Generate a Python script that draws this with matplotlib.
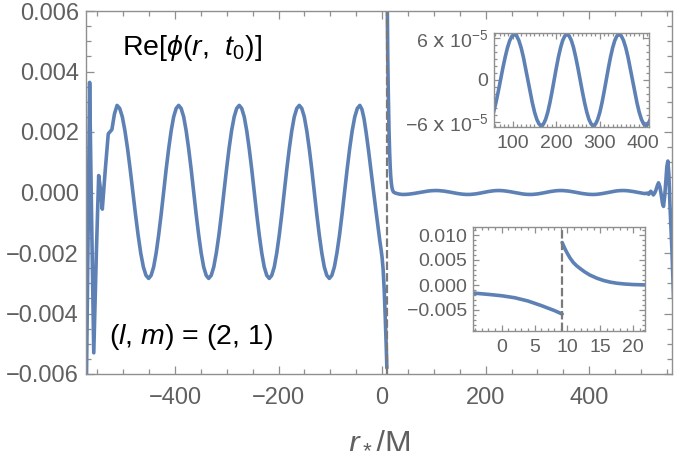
import numpy as np
import matplotlib
matplotlib.use('Agg')
import matplotlib.pyplot as plt
from matplotlib.ticker import MultipleLocator, FuncFormatter, FixedLocator, FixedFormatter

plt.rcParams['font.family'] = ['Liberation Sans', 'DejaVu Sans']
plt.rcParams['mathtext.fontset'] = 'custom'
plt.rcParams['mathtext.rm'] = 'Liberation Sans'
plt.rcParams['mathtext.it'] = 'Liberation Sans:italic'
plt.rcParams['mathtext.bf'] = 'Liberation Sans:bold'

# ---------------- data (phi in units of 1e-3) ----------------
r0 = 9.2  # particle location (dashed line)

# inner side (r* < r0)
rs_in = [-572, -568, -565, -561.5, -557, -552, -547.5, -544, -540.5, -535, -529, -522, -517, -512,
         -506.9, -501.8, -496.8, -491.7, -486.6, -481.5, -476.4, -471.3, -466.3, -461.2, -456.1, -451,
         -446.2, -441.3, -436.5, -431.7, -426.8, -422, -417.2, -412.3, -407.5, -402.7, -397.8, -393,
         -388.2, -383.3, -378.5, -373.7, -368.8, -364, -359.2, -354.3, -349.5, -344.7, -339.8, -335,
         -330.1, -325.2, -320.3, -315.3, -310.4, -305.5, -300.6, -295.7, -290.8, -285.8, -280.9, -276,
         -271.2, -266.3, -261.5, -256.7, -251.8, -247, -242.2, -237.3, -232.5, -227.7, -222.8, -218,
         -213.2, -208.3, -203.5, -198.7, -193.8, -189, -184.2, -179.3, -174.5, -169.7, -164.8, -160,
         -155.2, -150.3, -145.5, -140.7, -135.8, -131, -126.2, -121.3, -116.5, -111.7, -106.8, -102,
         -97.1, -92.2, -87.3, -82.3, -77.4, -72.5, -67.6, -62.7, -57.8, -52.8, -47.9, -43,
         -39, -35, -31, -26.5, -22, -17, -13, -10, -7, -4.4, -2, 0, 2, 4, 6, 8, 9.2]
phi_in = [-7.5, -1.5, 3.64, -0.5, -5.3, -2.0, 0.56, 0.1, -0.55, 0.7, 1.94, 2.08, 2.6, 2.88,
          2.78, 2.50, 2.04, 1.45, 0.76, 0.02, -0.72, -1.41, -2.00, -2.46, -2.74, -2.84,
          -2.74, -2.46, -2.00, -1.41, -0.72, 0.02, 0.76, 1.45, 2.04, 2.50, 2.78, 2.88,
          2.78, 2.50, 2.04, 1.45, 0.76, 0.02, -0.72, -1.41, -2.00, -2.46, -2.74, -2.84,
          -2.74, -2.46, -2.00, -1.41, -0.72, 0.02, 0.76, 1.45, 2.04, 2.50, 2.78, 2.88,
          2.78, 2.50, 2.04, 1.45, 0.76, 0.02, -0.72, -1.41, -2.00, -2.46, -2.74, -2.84,
          -2.74, -2.46, -2.00, -1.41, -0.72, 0.02, 0.76, 1.45, 2.04, 2.50, 2.78, 2.88,
          2.78, 2.50, 2.04, 1.45, 0.76, 0.02, -0.72, -1.41, -2.00, -2.46, -2.74, -2.84,
          -2.74, -2.46, -2.00, -1.41, -0.72, 0.02, 0.76, 1.45, 2.04, 2.50, 2.78, 2.88,
          2.75, 2.45, 2.0, 1.43, 0.8, 0.1, -0.45, -0.85, -1.25, -1.6, -1.88, -2.15, -2.55, -3.2, -4.1, -5.1, -5.8]

# outer side (r* > r0)
rs_out = [9.2, 9.6, 10.0, 10.4, 10.9, 11.4, 11.9, 12.6, 13.4, 14.5, 15.5, 16.5, 17.5, 18.7, 20, 21.8,
          24, 27, 30, 35, 40,
          45.3, 50.7, 56, 61.3, 66.7, 72, 77.3, 82.7, 88, 93.3, 98.7, 104,
          109.2, 114.3, 119.5, 124.7, 129.8, 135, 140.2, 145.3, 150.5, 155.7, 160.8, 166,
          170.9, 175.8, 180.8, 185.7, 190.6, 195.5, 200.4, 205.3, 210.3, 215.2, 220.1, 225,
          230.1, 235.2, 240.3, 245.3, 250.4, 255.5, 260.6, 265.7, 270.8, 275.8, 280.9, 286,
          290.9, 295.8, 300.8, 305.7, 310.6, 315.5, 320.4, 325.3, 330.3, 335.2, 340.1, 345,
          350.2, 355.3, 360.5, 365.7, 370.8, 376, 381.2, 386.3, 391.5, 396.7, 401.8, 407,
          411.8, 416.7, 421.5, 426.3, 431.2, 436, 440.8, 445.7, 450.5, 455.3, 460.2, 465,
          470, 475, 480, 485, 490, 495, 500, 505,
          509, 512, 515, 517, 519, 521.5, 524, 526.5, 529, 531.5, 534, 536.5, 539, 541.5, 543.6,
          546, 548, 550, 552, 554, 556, 558, 560, 563]
phi_out = [8.5, 7.3, 6.3, 5.4, 4.5, 3.85, 3.33, 2.65, 2.0, 1.35, 0.9, 0.58, 0.36, 0.2, 0.09, 0.02,
           -0.005, -0.025, -0.04, -0.058, -0.065,
           -0.0628, -0.0563, -0.046, -0.0325, -0.0168, 0.0, 0.0168, 0.0325, 0.046, 0.0563, 0.0628, 0.065,
           0.0628, 0.0563, 0.046, 0.0325, 0.0168, 0.0, -0.0168, -0.0325, -0.046, -0.0563, -0.0628, -0.065,
           -0.0628, -0.0563, -0.046, -0.0325, -0.0168, 0.0, 0.0168, 0.0325, 0.046, 0.0563, 0.0628, 0.065,
           0.0628, 0.0563, 0.046, 0.0325, 0.0168, 0.0, -0.0168, -0.0325, -0.046, -0.0563, -0.0628, -0.065,
           -0.0628, -0.0563, -0.046, -0.0325, -0.0168, 0.0, 0.0168, 0.0325, 0.046, 0.0563, 0.0628, 0.065,
           0.0628, 0.0563, 0.046, 0.0325, 0.0168, 0.0, -0.0168, -0.0325, -0.046, -0.0563, -0.0628, -0.065,
           -0.0628, -0.0563, -0.046, -0.0325, -0.0168, 0.0, 0.0168, 0.0325, 0.046, 0.0563, 0.0628, 0.065,
           0.0628, 0.0563, 0.046, 0.0325, 0.0168, 0.0, -0.0168, -0.03,
           -0.035, -0.02, -0.06, 0.0, 0.04, -0.02, -0.08, -0.02, 0.08, 0.22, 0.32, 0.2, -0.05, -0.35, -0.46,
           -0.1, 0.35, 0.85, 1.04, 0.6, -0.4, -1.2, -1.96, -3.5]

x_ticks_main = [-400, -200, 0, 200, 400]
y_ticks_main = [-0.006, -0.004, -0.002, 0.0, 0.002, 0.004, 0.006]
x_ticks_top = [100, 200, 300, 400]
y_ticks_top = [-6e-5, 0.0, 6e-5]
y_labels_top = [r'$-6\ \mathsf{x}\ 10^{-5}$', '0', r'$6\ \mathsf{x}\ 10^{-5}$']
x_ticks_low = [0, 5, 10, 15, 20]
y_ticks_low = [-0.005, 0.0, 0.005, 0.010]

# ---------------- style ----------------
LINE = '#5E81B5'
FRAME = '#8f8f8f'
TLAB = '#606060'
DASH = '#7a7a7a'
LW = 2.6

rin = np.array(rs_in)
pin = np.array(phi_in) * 1e-3
rout = np.array(rs_out)
pout = np.array(phi_out) * 1e-3


def fmt3(v, p):
    s = f'{v:.3f}'
    if s == '-0.000':
        s = '0.000'
    return s.replace('-', '\u2212')


def style_axes(ax, fs, major_len, minor_len):
    for sp in ax.spines.values():
        sp.set_color(FRAME)
        sp.set_linewidth(1.0)
    ax.tick_params(which='both', direction='in', top=True, right=True,
                   color=FRAME, width=0.9, labelcolor=TLAB, labelsize=fs)
    ax.tick_params(which='major', length=major_len)
    ax.tick_params(which='minor', length=minor_len)


def curve(a, r, p):
    a.plot(r, p, color=LINE, lw=LW, solid_capstyle='round', solid_joinstyle='round')


fig = plt.figure(figsize=(6.75, 4.59), dpi=100)

# main axes
ax = fig.add_axes([86/675, 1-374/459, (672-86)/675, (374-11)/459])
curve(ax, rin, pin)
curve(ax, rout, pout)
ax.axvline(r0, color=DASH, lw=1.6, linestyle=(0, (3.8, 1.4)))
ax.set_xlim(-572, 560)
ax.set_ylim(-0.006, 0.006)
ax.xaxis.set_major_locator(FixedLocator(x_ticks_main))
ax.xaxis.set_minor_locator(MultipleLocator(50))
ax.yaxis.set_major_locator(FixedLocator(y_ticks_main))
ax.yaxis.set_minor_locator(MultipleLocator(0.0005))
ax.xaxis.set_major_formatter(FuncFormatter(lambda v, p: f'{v:.0f}'.replace('-', '\u2212')))
ax.yaxis.set_major_formatter(FuncFormatter(fmt3))
style_axes(ax, 17, 6, 3.5)
ax.tick_params(axis='x', pad=9)
ax.tick_params(axis='y', pad=5)
ax.set_xlabel(r'$r_*$/M', fontsize=23, color=TLAB, labelpad=12)

ax.text(0.062, 0.897, r'Re[$\phi$($r$,  $t_0$)]', transform=ax.transAxes,
        fontsize=20.5, color='black', va='center', ha='left')
ax.text(0.040, 0.102, r'($l$, $m$) = (2, 1)', transform=ax.transAxes,
        fontsize=20.5, color='black', va='center', ha='left')

# top inset
ax1 = fig.add_axes([494/675, 1-127/459, 155/675, 94/459])
curve(ax1, rout, pout)
ax1.set_xlim(57, 414)
ax1.set_ylim(-6.7e-5, 6.7e-5)
ax1.xaxis.set_major_locator(FixedLocator(x_ticks_top))
ax1.xaxis.set_minor_locator(MultipleLocator(10))
ax1.yaxis.set_major_locator(FixedLocator(y_ticks_top))
ax1.yaxis.set_major_formatter(FixedFormatter(y_labels_top))
ax1.yaxis.set_minor_locator(MultipleLocator(1e-5))
style_axes(ax1, 14, 4, 2)
ax1.tick_params(axis='x', pad=6)
ax1.tick_params(axis='y', pad=4)

# lower inset
ax2 = fig.add_axes([472.7/675, 1-331/459, 172.3/675, 104/459])
curve(ax2, rin, pin)
curve(ax2, rout, pout)
ax2.axvline(r0, color=DASH, lw=1.6, linestyle=(0, (3.8, 1.4)))
ax2.set_xlim(-4.4, 21.8)
ax2.set_ylim(-0.0092, 0.0116)
ax2.xaxis.set_major_locator(FixedLocator(x_ticks_low))
ax2.xaxis.set_minor_locator(MultipleLocator(1))
ax2.yaxis.set_major_locator(FixedLocator(y_ticks_low))
ax2.yaxis.set_minor_locator(MultipleLocator(0.001))
ax2.yaxis.set_major_formatter(FuncFormatter(fmt3))
style_axes(ax2, 14, 4, 2)
ax2.tick_params(axis='x', pad=6)
ax2.tick_params(axis='y', pad=4)

fig.savefig('out.png', dpi=100)
